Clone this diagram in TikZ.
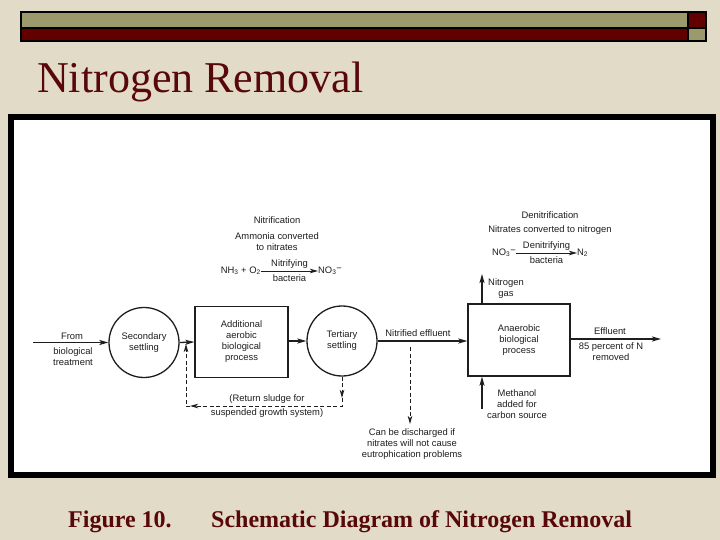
\documentclass[tikz,border=0pt]{standalone}
\usepackage{fontspec}
\setmainfont{Liberation Serif}
\newfontfamily\diagfont{Liberation Sans}
\usetikzlibrary{arrows.meta}
\definecolor{bg}{RGB}{226,219,200}
\definecolor{olivebar}{RGB}{156,153,108}
\definecolor{maroonbar}{RGB}{98,0,0}
\definecolor{titlered}{RGB}{88,8,8}
\definecolor{ink}{RGB}{30,30,30}
\begin{document}
\begin{tikzpicture}[x=1pt,y=-1pt,
  lbl/.style={font=\diagfont\fontsize{9.4}{11}\selectfont, text=ink, align=center, inner sep=0pt},
  flow/.style={draw=ink, line width=1.3pt, -{Stealth[length=9pt,width=5pt,inset=2pt]}},
  eqarrow/.style={draw=ink, line width=0.9pt, -{Stealth[length=8pt,width=4.5pt,inset=2pt]}},
  dsh/.style={draw=ink, line width=1pt, dash pattern=on 4pt off 2.5pt, -{Stealth[length=8pt,width=4.5pt,inset=2pt]}},
  procbox/.style={draw=ink, line width=1.3pt, rectangle, fill=white, font=\diagfont\fontsize{9.4}{11}\selectfont, text=ink, align=center, inner sep=0pt},
  settler/.style={draw=ink, line width=1.3pt, circle, minimum size=70pt, fill=white, font=\diagfont\fontsize{9.4}{11}\selectfont, text=ink, align=center, inner sep=0pt},
  bar/.style={draw=black, line width=1.6pt}
]
% background and bounding box
\fill[bg] (0,0) rectangle (720,540);
\useasboundingbox (0,0) rectangle (720,540);

% top bars
\filldraw[bar, fill=olivebar] (21,12) rectangle (688,28);
\filldraw[bar, fill=maroonbar] (21,28) rectangle (688,41);
\filldraw[bar, fill=maroonbar] (688,12) rectangle (706,28);
\filldraw[bar, fill=olivebar] (688,28) rectangle (706,41);

% title
\node[anchor=base west, font=\fontsize{44}{50}\selectfont, text=titlered, inner sep=0pt] (title) at (37,93) {Nitrogen Removal};

% figure frame
\filldraw[draw=black, fill=white, line width=6pt] (11,117) rectangle (713,475);

% process units
\node[settler] (sec) at (144,342.5) {Secondary\\settling};
\node[procbox, minimum width=93pt, minimum height=71pt] (add) at (241.5,342) {Additional\\aerobic\\biological\\process};
\node[settler] (ter) at (342,341) {Tertiary\\settling};
\node[procbox, minimum width=102pt, minimum height=72pt] (ana) at (519,340) {Anaerobic\\biological\\process};

% main flow
\coordinate (fromstart) at (33,342.5);
\draw[flow] (fromstart) -- (sec.west);
\draw[flow] (sec.east) -- (add.west);
\draw[flow] (add.east |- ter.west) -- (ter.west);
\draw[flow] (ter.east) -- (ter.east -| ana.west);
\coordinate (effend) at (661,339);
\draw[flow] (ana.east |- effend) -- (effend);
\coordinate (n2top) at (482,274);
\draw[flow] (n2top |- ana.north) -- (n2top);
\coordinate (methbot) at (482,409);
\draw[flow] (methbot) -- (methbot |- ana.south);

% dashed lines
\coordinate (dis0) at (410,347);
\coordinate (dis1) at (410,424);
\draw[dsh] (dis0) -- (dis1);
\coordinate (r1) at (342,398);
\coordinate (r2) at (342,406);
\coordinate (r3) at (190,406);
\coordinate (r4) at (186,406);
\coordinate (r5) at (186,344);
\draw[dsh] (ter.south) -- (r1);
\draw[dsh] (r1) -- (r2) -- (r3);
\draw[dsh] (r3) -- (r4) -- (r5);

% labels
\node[lbl] (from) at (72,336) {From};
\node[lbl] (biot) at (73,356.5) {biological\\treatment};
\node[lbl] (nitref) at (418,333) {Nitrified effluent};
\node[lbl] (ret1) at (267,399) {(Return sludge for};
\node[lbl] (ret2) at (267,413.5) {suspended growth system)};
\node[lbl] (disch) at (412,444.5) {Can be discharged if\\nitrates will not cause\\eutrophication problems};
\node[lbl] (n2gas) at (506,288.5) {Nitrogen\\gas};
\node[lbl] (meth) at (517,404.5) {Methanol\\added for\\carbon source};
\node[lbl] (eff) at (610,331) {Effluent};
\node[lbl] (pct) at (611,351.5) {85 percent of N\\removed};

% nitrification
\node[lbl] (nitt) at (277,220.5) {Nitrification};
\node[lbl] (amm) at (277,242) {Ammonia converted\\to nitrates};
\node[lbl, anchor=east] (nh3) at (261,271) {NH\textsubscript{3} + O\textsubscript{2}};
\node[lbl, anchor=west] (no3) at (318,271) {NO\textsubscript{3}\raisebox{0.35ex}{−}};
\draw[eqarrow] (nh3.east) -- node[lbl, above=2.5pt] (nitbac) {Nitrifying} node[lbl, below=3pt] (bac1) {bacteria} (no3.west);

% denitrification
\node[lbl] (dent) at (550,215) {Denitrification};
\node[lbl] (ncon) at (550,230) {Nitrates converted to nitrogen};
\node[lbl, anchor=east] (no3b) at (516,253) {NO\textsubscript{3}\raisebox{0.35ex}{−}};
\node[lbl, anchor=west] (n2) at (577,253) {N\textsubscript{2}};
\draw[eqarrow] (no3b.east) -- node[lbl, above=2.5pt] (denbac) {Denitrifying} node[lbl, below=3pt] (bac2) {bacteria} (n2.west);

% caption
\node[anchor=base west, font=\bfseries\fontsize{24}{28}\selectfont, text=titlered, inner sep=0pt] (fig) at (68,527) {Figure 10.};
\node[anchor=base west, font=\bfseries\fontsize{24}{28}\selectfont, text=titlered, inner sep=0pt] (cap) at (211,527) {Schematic Diagram of Nitrogen Removal};
\end{tikzpicture}
\end{document}
